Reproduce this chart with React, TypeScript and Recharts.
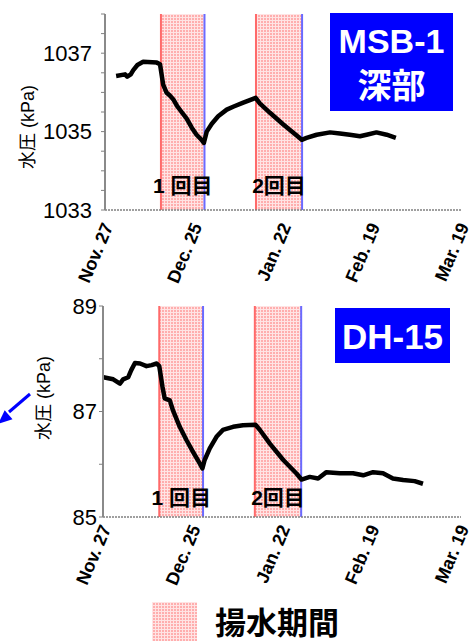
import React from 'react';
import { LineChart, Line, XAxis, YAxis, ReferenceArea, ReferenceLine } from 'recharts';

// x values are days since Nov. 27
const tickDays = [0, 28, 56, 84, 112];
const tickLabels = ['Nov. 27', 'Dec. 25', 'Jan. 22', 'Feb. 19', 'Mar. 19'];
const pumpStart = [17.6, 47.5];
const pumpEnd = [31.3, 62.0];
const pumpLabelsTop = ['1 回目', '2回目'];
const pumpLabelsBottom = ['1 回目', '2回目'];

const msbDays = [3.5, 6.3, 7.0, 8.1, 8.9, 10.2, 12.0, 16.3, 17.3, 18.3, 19.4, 20.4, 21.5, 22.7, 24.1, 25.7, 27.3, 28.8, 30.4, 31.1, 32.0, 33.6, 35.6, 38.3, 40.5, 43.5, 47.4, 48.7, 51.9, 56.1, 60.3, 61.9, 63.4, 66.6, 70.8, 73.9, 77.0, 80.2, 82.3, 85.4, 88.6, 91.5];
const msbValues = [1036.42, 1036.46, 1036.40, 1036.46, 1036.57, 1036.70, 1036.78, 1036.76, 1036.72, 1036.2, 1035.99, 1035.92, 1035.82, 1035.65, 1035.5, 1035.33, 1035.1, 1034.92, 1034.79, 1034.71, 1035.0, 1035.2, 1035.39, 1035.56, 1035.64, 1035.74, 1035.86, 1035.72, 1035.48, 1035.18, 1034.9, 1034.79, 1034.84, 1034.92, 1034.98, 1034.95, 1034.92, 1034.88, 1034.92, 1034.98, 1034.92, 1034.84];

const dhDays = [0.1, 3.2, 5.3, 6.3, 7.9, 8.8, 10.0, 11.6, 13.6, 15.2, 16.8, 17.6, 18.6, 19.3, 20.9, 21.9, 24.0, 26.1, 28.2, 30.3, 31.1, 31.8, 33.4, 35.5, 37.5, 40.7, 43.8, 47.7, 49.1, 52.2, 56.4, 60.6, 62.1, 64.7, 67.3, 69.9, 74.1, 78.2, 81.4, 84.5, 87.6, 90.7, 93.9, 97.5, 100.1];
const dhValues = [87.65, 87.61, 87.53, 87.61, 87.65, 87.78, 87.92, 87.91, 87.86, 87.88, 87.91, 87.86, 87.47, 87.25, 87.21, 87.02, 86.71, 86.46, 86.23, 86.01, 85.92, 86.08, 86.3, 86.52, 86.65, 86.71, 86.74, 86.75, 86.65, 86.39, 86.08, 85.82, 85.71, 85.76, 85.73, 85.85, 85.83, 85.83, 85.79, 85.85, 85.83, 85.73, 85.7, 85.68, 85.63];

const msbTicks = [1033, 1033.5, 1034, 1034.5, 1035, 1035.5, 1036, 1036.5, 1037, 1037.5, 1038];
const dhTicks = [85, 86, 87, 88, 89];

const msbData = msbDays.map((d, i) => ({ day: d, v: msbValues[i] }));
const dhData = dhDays.map((d, i) => ({ day: d, v: dhValues[i] }));

const LATIN = '"Liberation Sans", Arial, sans-serif';
const CJK = '"Liberation Sans", "Noto Sans CJK JP", sans-serif';

const makeXTick = (dy: number) => (props: any) => {
  const { x, y, payload } = props;
  const i = tickDays.indexOf(payload.value);
  return (
    <g transform={`translate(${x + 3},${y + dy}) rotate(-67)`}>
      <text textAnchor="end" dominantBaseline="central" fontFamily={LATIN} fontWeight="bold" fontSize={18} fill="#000">
        {tickLabels[i]}
      </text>
    </g>
  );
};

type PanelProps = {
  data: { day: number; v: number }[];
  domain: [number, number];
  ticks: number[];
  labelBase: number;
  yWidth: number;
  xHeight: number;
  tickMargin: number;
  xdy: number;
  labelOffset: number;
  labels: string[];
};

const Panel = (p: PanelProps) => (
  <LineChart width={473} height={300} data={p.data} margin={{ top: 14, right: 12, bottom: 0, left: 0 }} style={{ overflow: 'visible' }}>
    <XAxis
      dataKey="day"
      type="number"
      domain={[0, 112]}
      ticks={tickDays}
      interval={0}
      allowDataOverflow
      height={p.xHeight}
      tickSize={0}
      tickMargin={0}
      tick={makeXTick(p.xdy)}
      axisLine={{ stroke: '#808080', strokeWidth: 1.5, strokeDasharray: '2 1' }}
    />
    <XAxis xAxisId="top" orientation="top" type="number" domain={[0, 112]} height={0} tick={false} tickLine={false}
      axisLine={{ stroke: '#a0a0a0', strokeWidth: 2 }} />
    <YAxis
      type="number"
      domain={p.domain}
      ticks={p.ticks}
      interval={0}
      allowDataOverflow
      width={p.yWidth}
      tickSize={4}
      tickMargin={p.tickMargin}
      tickLine={{ stroke: '#808080', strokeWidth: 1 }}
      axisLine={{ stroke: '#8a8a8a', strokeWidth: 2 }}
      tick={{ fontSize: 22, fill: '#000', fontFamily: LATIN }}
      tickFormatter={(v: number) => (Number.isInteger(v) && (v - p.labelBase) % 2 === 0 ? String(v) : '')}
    />
    <YAxis yAxisId="right" orientation="right" width={0} tick={false} tickLine={false}
      axisLine={{ stroke: '#a0a0a0', strokeWidth: 2 }} />
    {pumpStart.map((s, i) => (
      <ReferenceArea
        key={'a' + i}
        x1={s}
        x2={pumpEnd[i]}
        fill="url(#pinkPat)"
        fillOpacity={1}
        stroke="none"
        label={{ value: p.labels[i], position: 'insideBottom', offset: p.labelOffset, fontSize: 21, fontWeight: 'bold', fill: '#000', fontFamily: CJK }}
      />
    ))}
    {pumpStart.map((s, i) => (
      <ReferenceLine key={'r' + i} x={s} stroke="#ff6a6a" strokeWidth={2} />
    ))}
    {pumpEnd.map((s, i) => (
      <ReferenceLine key={'b' + i} x={s} stroke="#6a6aff" strokeWidth={2} />
    ))}
    <Line dataKey="v" stroke="#000" strokeWidth={4.5} dot={false} isAnimationActive={false} strokeLinejoin="round" />
  </LineChart>
);

export default function App() {
  return (
    <div style={{ position: 'absolute', left: 0, top: 0, width: 473, height: 641, background: '#fff', overflow: 'hidden' }}>
      <svg width={0} height={0} style={{ position: 'absolute' }}>
        <defs>
          <pattern id="pinkPat" width="3" height="3" patternUnits="userSpaceOnUse">
            <rect width="3" height="3" fill="#ffaeae" />
            <rect x="2" width="1" height="3" fill="#ffe4e4" />
            <rect y="2" width="3" height="1" fill="#ffe4e4" />
          </pattern>
        </defs>
      </svg>
      <div style={{ position: 'absolute', left: 0, top: 0 }}>
        <Panel data={msbData} domain={[1033, 1038]} ticks={msbTicks} labelBase={1033} yWidth={105} xHeight={90}
          tickMargin={9} xdy={14} labelOffset={17} labels={pumpLabelsTop} />
      </div>
      <div style={{ position: 'absolute', left: 0, top: 292 }}>
        <Panel data={dhData} domain={[85, 89]} ticks={dhTicks} labelBase={85} yWidth={103} xHeight={75}
          tickMargin={2} xdy={9} labelOffset={12} labels={pumpLabelsBottom} />
      </div>
      <svg width={473} height={641} style={{ position: 'absolute', left: 0, top: 0, pointerEvents: 'none' }}>
        <text transform="translate(28,127) rotate(-90)" textAnchor="middle" dominantBaseline="central" fontFamily={CJK} fontSize={18} fill="#000">水圧 (kPa)</text>
        <text transform="translate(44,398) rotate(-90)" textAnchor="middle" dominantBaseline="central" fontFamily={CJK} fontSize={18} fill="#000">水圧 (kPa)</text>
        <rect x={330} y={13} width={123} height={98} fill="#0000ff" />
        <text x={391.5} y={41} textAnchor="middle" dominantBaseline="central" fontFamily={LATIN} fontWeight="bold" fontSize={34} fill="#fff">MSB-1</text>
        <text x={391.5} y={86} textAnchor="middle" dominantBaseline="central" fontFamily={CJK} fontWeight="bold" fontSize={34} fill="#fff">深部</text>
        <rect x={335} y={308} width={115} height={55} fill="#0000ff" />
        <text x={392.5} y={336} textAnchor="middle" dominantBaseline="central" fontFamily={LATIN} fontWeight="bold" fontSize={35} fill="#fff">DH-15</text>
        <line x1={30} y1={394} x2={9} y2={412} stroke="#0000ff" strokeWidth={3} />
        <polygon points="-2,424 4.7,410.3 12.5,419.3" fill="#0000ff" />
        <rect x={152} y={602} width={45} height={39} fill="url(#pinkPat)" />
        <text x={215} y={623} dominantBaseline="central" fontFamily={CJK} fontWeight="bold" fontSize={31} fill="#000">揚水期間</text>
      </svg>
    </div>
  );
}
